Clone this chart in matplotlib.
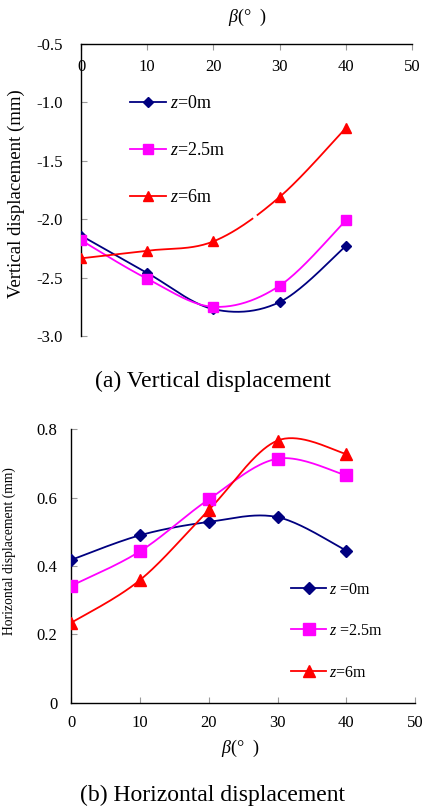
import numpy as np
import matplotlib
matplotlib.use("Agg")
import matplotlib.pyplot as plt

plt.rcParams['font.family'] = ['Liberation Serif', 'DejaVu Serif']
plt.rcParams['mathtext.fontset'] = 'custom'
plt.rcParams['mathtext.rm'] = 'Liberation Serif'
plt.rcParams['mathtext.it'] = 'Liberation Serif:italic'
plt.rcParams['mathtext.default'] = 'it'

# ---------------- data ----------------
beta = [0, 10, 20, 30, 40]

vert_z0 = [-2.14, -2.46, -2.77, -2.71, -2.23]
vert_z25 = [-2.18, -2.51, -2.75, -2.57, -2.01]
vert_z6 = [-2.335, -2.27, -2.19, -1.81, -1.22]

hor_z0 = [0.418, 0.490, 0.529, 0.543, 0.445]
hor_z25 = [0.342, 0.443, 0.595, 0.714, 0.665]
hor_z6 = [0.234, 0.359, 0.564, 0.767, 0.728]

labels_top = [r"$z$=0m", r"$z$=2.5m", r"$z$=6m"]
labels_bot = [r"$z$ =0m", r"$z$ =2.5m", r"$z$=6m"]

vert_ticks = [-3.0, -2.5, -2.0, -1.5, -1.0, -0.5]
hor_ticks = [0, 0.2, 0.4, 0.6, 0.8]
beta_ticks = [0, 10, 20, 30, 40, 50]

colors = ['#000080', '#FF00FF', '#FF0000']
markers = ['D', 's', '^']


def smooth(x, y, n=40):
    """Excel-like smoothed line (cubic Bezier / Catmull-Rom through the points)."""
    p = np.column_stack([x, y]).astype(float)
    m = len(p)
    xs, ys = [], []
    t = np.linspace(0, 1, n)[:, None]
    for i in range(m - 1):
        p0 = p[max(i - 1, 0)]
        p1 = p[i]
        p2 = p[i + 1]
        p3 = p[min(i + 2, m - 1)]
        c1 = p1 + (p2 - p0) / 6.0
        c2 = p2 - (p3 - p1) / 6.0
        b = (1 - t) ** 3 * p1 + 3 * (1 - t) ** 2 * t * c1 + 3 * (1 - t) * t ** 2 * c2 + t ** 3 * p2
        xs.append(b[:, 0])
        ys.append(b[:, 1])
    return np.concatenate(xs), np.concatenate(ys)


W, H = 422, 807
fig = plt.figure(figsize=(W / 100, H / 100), dpi=100)


def fx(px):
    return px / W


def fy(py):
    return 1 - py / H


tick_col = '#9a9a9a'

# ---------------- (a) vertical ----------------
ax1 = fig.add_axes([fx(81), fy(336), (412 - 81) / W, (336 - 44) / H])
series_v = [vert_z0, vert_z25, vert_z6]
ms_top = [5.5, 7.5, 7.5]
for k, (vals, c, mk, lab) in enumerate(zip(series_v, colors, markers, labels_top)):
    sx, sy = smooth(beta, vals)
    if k == 2:
        gap = (sx > 25.9) & (sx < 26.6)
        sy = np.where(gap, np.nan, sy)
    ax1.plot(sx, sy, color=c, lw=1.3, zorder=2)
    ax1.plot(beta, vals, linestyle='none', marker=mk, color=c, ms=ms_top[k], zorder=3)
    ax1.plot([], [], color=c, lw=1.3, marker=mk, ms=ms_top[k], label=lab)

ax1.set_xlim(0, 50)
ax1.set_ylim(-3.0, -0.5)
ax1.set_xticks(beta_ticks)
ax1.set_yticks(vert_ticks)
ax1.set_yticklabels([f"{v:.1f}" for v in vert_ticks])
ax1.xaxis.set_ticks_position('top')
ax1.spines['right'].set_visible(False)
ax1.spines['bottom'].set_visible(False)
for s in ['left', 'top']:
    ax1.spines[s].set_linewidth(1.0)
ax1.tick_params(axis='x', which='both', direction='in', length=4, color=tick_col,
                top=True, bottom=False, labeltop=True, labelbottom=False,
                pad=-22, labelsize=12)
ax1.tick_params(axis='y', direction='in', length=4, color=tick_col, pad=13, labelsize=12)
ax1.set_xlabel(r"$\beta$(°  )", fontsize=13)
ax1.xaxis.set_label_position('top')
ax1.xaxis.label.set_va('center')
ax1.xaxis.set_label_coords((247 - 81) / 331, (336 - 17) / 292)
ax1.set_ylabel("Vertical displacement (mm)", fontsize=13.5, va='center')
ax1.yaxis.set_label_coords((16 - 81) / 331, (336 - 194) / 292)
leg1 = ax1.legend(loc='upper left', bbox_to_anchor=((130 - 81) / 331, (336 - 95) / 292),
                  frameon=False, fontsize=13, handlelength=2.0, handletextpad=0.2,
                  labelspacing=1.67, borderpad=0, borderaxespad=0)

fig.text(fx(212.5), fy(381.7), "(a) Vertical displacement", fontsize=17,
         ha='center', va='center')

# ---------------- (b) horizontal ----------------
ax2 = fig.add_axes([fx(71.3), fy(702.7), (415 - 71.3) / W, (702.7 - 429.3) / H])
series_h = [hor_z0, hor_z25, hor_z6]
ms_bot = [6, 8, 8]
for k, (vals, c, mk, lab) in enumerate(zip(series_h, colors, markers, labels_bot)):
    sx, sy = smooth(beta, vals)
    ax2.plot(sx, sy, color=c, lw=1.3, zorder=2)
    ax2.plot(beta, vals, linestyle='none', marker=mk, color=c, ms=ms_bot[k], zorder=3)
    ax2.plot([], [], color=c, lw=1.3, marker=mk, ms=ms_bot[k], label=lab)

ax2.set_xlim(0, 50)
ax2.set_ylim(0, 0.8)
ax2.set_xticks(beta_ticks)
ax2.set_yticks(hor_ticks)
ax2.set_yticklabels(["0" if v == 0 else f"{v:.1f}" for v in hor_ticks])
ax2.spines['right'].set_visible(False)
ax2.spines['top'].set_visible(False)
for s in ['left', 'bottom']:
    ax2.spines[s].set_linewidth(1.0)
ax2.tick_params(axis='x', direction='in', length=4, color=tick_col, pad=9, labelsize=12)
ax2.tick_params(axis='y', direction='in', length=4, color=tick_col, pad=10, labelsize=12)
ax2.set_xlabel(r"$\beta$(°  )", fontsize=13, va='center')
ax2.xaxis.set_label_coords((240 - 71.3) / 343.7, (702.7 - 748) / 273.4)
ax2.set_ylabel("Horizontal displacement (mm)", fontsize=9.8, va='center')
ax2.yaxis.set_label_coords((9 - 71.3) / 343.7, (702.7 - 551) / 273.4)
leg2 = ax2.legend(loc='upper left', bbox_to_anchor=((291 - 71.3) / 343.7, (702.7 - 581.5) / 273.4),
                  frameon=False, fontsize=11.5, handlelength=2.2, handletextpad=0.2,
                  labelspacing=1.6, borderpad=0, borderaxespad=0)

fig.text(fx(212.7), fy(795), "(b) Horizontal displacement", fontsize=17,
         ha='center', va='center')

fig.savefig("out.png", dpi=100)
